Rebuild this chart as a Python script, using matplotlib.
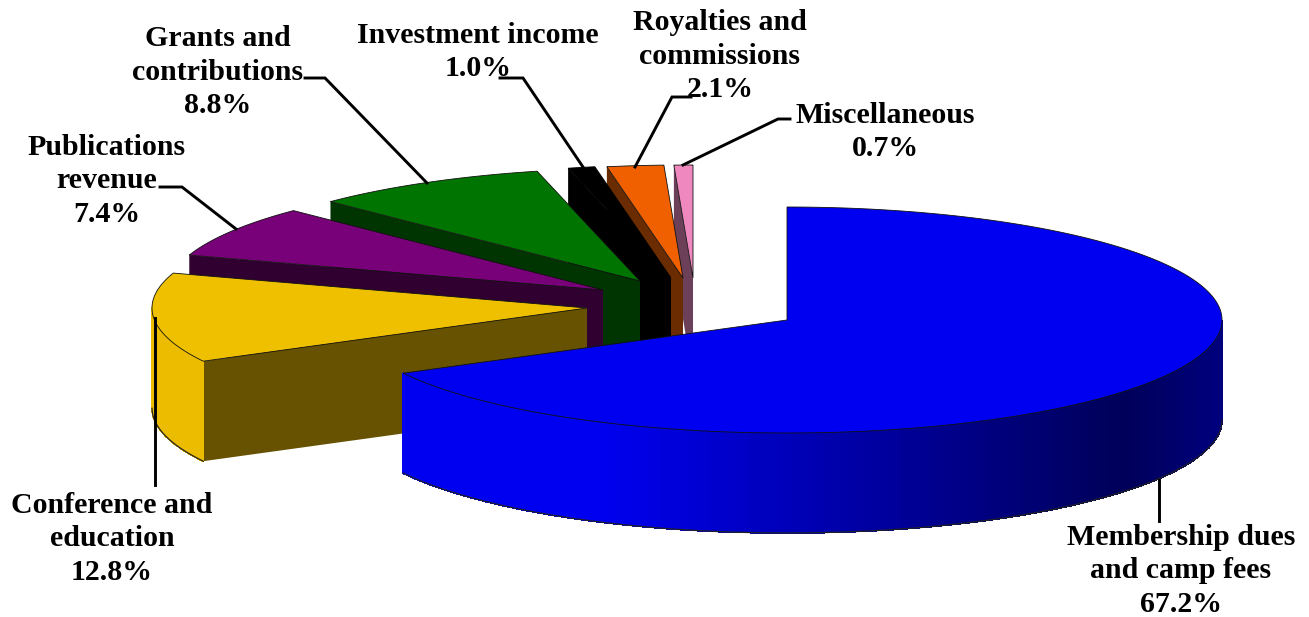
import numpy as np
import matplotlib
matplotlib.use("Agg")
import matplotlib.pyplot as plt

names = ["Membership dues\nand camp fees", "Conference and\neducation", "Publications\nrevenue",
         "Grants and\ncontributions", "Investment income", "Royalties and\ncommissions", "Miscellaneous"]
shares = [67.2, 12.8, 7.4, 8.8, 1.0, 2.1, 0.7]

top_colors = ["#0000f0", "#eec000", "#780078", "#007400", "#000000", "#f06000", "#f088c0"]
cut_colors = ["#000080", "#665200", "#300030", "#003400", "#000000", "#6a2c00", "#6c4058"]
side_colors = ["#0000f0", "#ecbc00", "#300030", "#003400", "#000000", "#6a2c00", "#6c4058"]

# pie apex of each slice, in pixels (the explosion)
apex_x = [787, 587, 603, 640, 671, 683, 693]
apex_y = [320, 308, 290, 281, 278, 278, 278]
label_x = [1181, 112, 107, 218, 478, 720, 885]
label_y = [571, 539, 181, 72, 52, 56, 132]

rx, ry, depth = 435, 113, 100

leaders = [
    [(1159, 480), (1159, 521)],
    [(155, 318), (155, 485)],
    [(160, 187), (182, 187), (236, 229)],
    [(305, 78), (325, 78), (427, 183)],
    [(500, 78), (523, 78), (583, 167)],
    [(691, 97), (672, 97), (635, 167)],
    [(790, 119), (778, 119), (683, 165)],
]


def rim(cx, cy, t):
    return cx + rx * np.sin(t), cy - ry * np.cos(t)


def blue_shade(x):
    # side of the big slice goes dark towards the right
    f = np.clip((x - 600) / 520, 0, 1)
    return (0, 0, (240 - 150 * f) / 255) if x < 1130 else (0, 0, (90 + (x - 1130) * 0.4) / 255)


fig = plt.figure(figsize=(13.09, 6.17), dpi=100)
ax = fig.add_axes([0, 0, 1, 1])
ax.set_xlim(0, 1309)
ax.set_ylim(617, 0)
ax.axis("off")

ends = np.cumsum(shares) / sum(shares) * 2 * np.pi
starts = np.r_[0, ends[:-1]]

# back to front, the big slice goes last
for i in [6, 5, 4, 3, 2, 1, 0]:
    cx, cy = apex_x[i], apex_y[i]
    t = np.linspace(starts[i], ends[i], 240)
    x, y = rim(cx, cy, t)

    # cut face from the apex out to the start of the slice
    if i > 0:
        x0, y0 = x[0], y[0]
        ax.fill([cx, x0, x0, cx], [cy, y0, y0 + depth, cy + depth], color=cut_colors[i], lw=0, zorder=-i + 10)

    # outer wall
    for j in range(len(t) - 1):
        if np.cos(t[j]) > 0:
            continue
        col = blue_shade(x[j]) if i == 0 else side_colors[i]
        ax.fill([x[j], x[j + 1], x[j + 1], x[j]], [y[j], y[j + 1], y[j + 1] + depth, y[j] + depth],
                color=col, lw=0.6, antialiased=False, zorder=-i + 10.2)
    front = np.cos(t) <= 0
    if front.any():
        ax.plot(x[front], y[front] + depth, color="#222222", lw=0.9, zorder=-i + 10.3)

    # top
    edge = "#000000" if i == 4 else "#111111"
    ax.fill(np.r_[cx, x], np.r_[cy, y], facecolor=top_colors[i], edgecolor=edge, lw=0.6, zorder=-i + 10.4)

for i in range(len(names)):
    txt = names[i] + "\n" + f"{shares[i]:.1f}%"
    ax.text(label_x[i], label_y[i], txt, ha="center", va="center", family="Liberation Serif",
            fontweight="bold", fontsize=21.5, linespacing=1.29, color="black", zorder=30)
    ax.plot(*zip(*leaders[i]), color="black", lw=2.1, solid_joinstyle="miter", zorder=25)

fig.savefig("out.png", dpi=100)
